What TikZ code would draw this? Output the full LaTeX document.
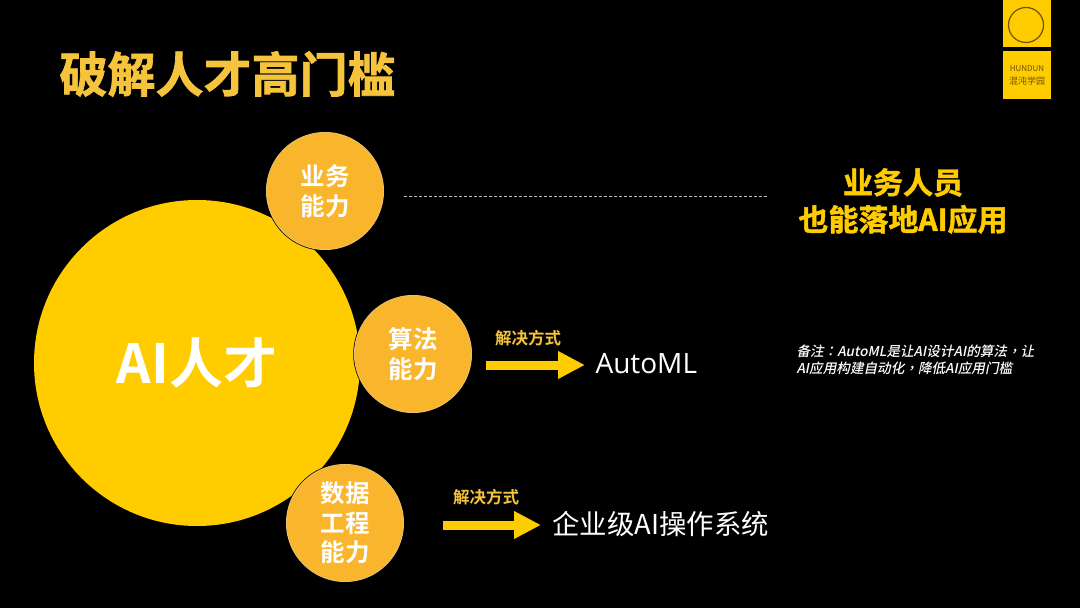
\documentclass[tikz,border=0pt]{standalone}
\usepackage{fontspec}
\setmainfont{Noto Sans CJK SC}
\newfontfamily\cjkbold{Noto Sans CJK SC Bold}
\newfontfamily\cjkheavy[FakeBold=1.5]{Noto Sans CJK SC Bold}
\newfontfamily\cjkslant[FakeSlant=0.2]{Noto Sans CJK SC Medium}
\newfontfamily\cjkslantpunct[FakeSlant=0.2]{Noto Sans CJK TC Medium}
\newfontfamily\latinfont{Open Sans}
\definecolor{bigyellow}{RGB}{255,204,0}
\definecolor{smallorange}{RGB}{249,181,43}
\definecolor{titleyellow}{RGB}{245,196,60}
\definecolor{logobrown}{RGB}{110,80,10}
\usetikzlibrary{arrows.meta}
\tikzset{
  skillball/.style={circle,draw=black!10!smallorange!70!white,line width=1pt,fill=smallorange,minimum size=117pt,inner sep=0pt,text=white,align=center,preaction={draw=black,line width=2.5pt},font=\cjkbold\fontsize{24.5}{29.5}\selectfont},
  waylabel/.style={text=titleyellow,font=\cjkbold\fontsize{16.5}{18}\selectfont},
  resultlabel/.style={text=white,font=\fontsize{27.4}{30}\selectfont},
  wayarrow/.style={draw=bigyellow,line width=9pt,-{Triangle[length=27pt,width=26pt]}}
}
\begin{document}
\begin{tikzpicture}[x=1pt,y=-1pt]
  \useasboundingbox (0,0) rectangle (1080,608);
  \fill[black] (0,0) rectangle (1080,608);

  % Logo
  \fill[bigyellow] (1003,0) rectangle (1051,47);
  \fill[bigyellow] (1003,51) rectangle (1051,99);
  \draw[logobrown,line width=1.2pt] (1026,25) circle (17.5pt);
  \node[text=logobrown,font=\fontsize{8}{9}\selectfont] (logoname) at (1027,69) {HUNDUN};
  \node[text=logobrown,font=\fontsize{9}{10}\selectfont] (logocn) at (1027,81) {混沌学园};

  % Titel
  \node[anchor=west,text=titleyellow,font=\cjkheavy\fontsize{48}{50}\selectfont] (title) at (56,74) {破解人才高门槛};

  % Kreise
  \node[circle,fill=bigyellow,minimum size=326pt,inner sep=0pt,text=white,font=\cjkbold\fontsize{54}{60}\selectfont] (talent) at (197,363) {\raisebox{2pt}{AI人才}};
  \node[skillball] (business) at (325,191) {业务\\能力};
  \node[skillball] (algo) at (413,354) {算法\\能力};
  \node[skillball] (data) at (345,523) {数据\\工程\\能力};

  % Rechts oben
  \coordinate (dashstart) at (404,196);
  \coordinate (dashend) at (767,196);
  \draw[white!75!black,line width=0.6pt,densely dashed] (dashstart) -- (dashend);
  \node[text=bigyellow,align=center,font=\cjkheavy\fontsize{30}{37}\selectfont] (staff) at (903,201) {业务人员\\也能落地AI应用};

  % AutoML
  \coordinate (algostart) at (486,365);
  \coordinate (algoend) at (585,365);
  \node[anchor=west,text=white,font=\latinfont\fontsize{28}{30}\selectfont] (automl) at (592,364) {AutoML};
  \draw[wayarrow] (algostart) -- (algoend);
  \node[waylabel] (algoway) at (528,338) {解决方式};
  \node[anchor=west,text=white,align=left,font=\cjkslant\fontsize{13.6}{17}\selectfont] (remark) at (793,360) {备注{\cjkslantpunct ：}AutoML是让AI设计AI的算法{\cjkslantpunct ，}让\\AI应用构建自动化{\cjkslantpunct ，}降低AI应用门槛};

  % Betriebssystem
  \coordinate (datastart) at (443,525);
  \coordinate (dataend) at (541,525);
  \node[resultlabel,anchor=west] (platform) at (549,524) {企业级AI操作系统};
  \draw[wayarrow] (datastart) -- (dataend);
  \node[waylabel] (dataway) at (486,497) {解决方式};
\end{tikzpicture}
\end{document}
